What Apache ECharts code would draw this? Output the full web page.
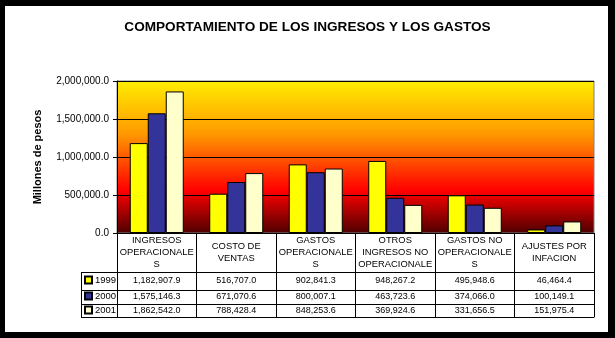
<!DOCTYPE html>
<html><head><meta charset="utf-8">
<script src="https://cdn.jsdelivr.net/npm/echarts@6/dist/echarts.min.js"></script>
<style>
html,body{margin:0;padding:0;background:#000;}
#frame{position:absolute;left:5px;top:6px;width:603px;height:326px;background:#fff;}
#main{position:absolute;left:0;top:0;width:615px;height:338px;}
</style>
</head><body><div id="frame"></div><div id="main"></div>
<script>
const title = 'COMPORTAMIENTO DE LOS INGRESOS Y LOS GASTOS';
const categories = ['INGRESOS\nOPERACIONALE\nS', 'COSTO DE\nVENTAS', 'GASTOS\nOPERACIONALE\nS', 'OTROS\nINGRESOS NO\nOPERACIONALE', 'GASTOS NO\nOPERACIONALE\nS', 'AJUSTES POR\nINFACION'];
const years = ['1999', '2000', '2001'];
const v1999 = [1182907.9, 516707.0, 902841.3, 948267.2, 495948.6, 46464.4];
const v2000 = [1575146.3, 671070.6, 800007.1, 463723.6, 374066.0, 100149.1];
const v2001 = [1862542.0, 788428.4, 848253.6, 369924.6, 331656.5, 151975.4];
const colors = ['#FFFF00', '#333399', '#FFFFCC'];

const FONT = "'Liberation Sans', Arial, sans-serif";
function fmt(v) {
  const parts = v.toFixed(1).split('.');
  return parts[0].replace(/\B(?=(\d{3})+(?!\d))/g, ',') + '.' + parts[1];
}
const seriesData = [v1999, v2000, v2001];

const chart = echarts.init(document.getElementById('main'), null, {renderer: 'canvas'});

function rowAxis(offset, values, margin) {
  return {
    type: 'category', data: categories, position: 'bottom', offset: offset,
    axisLine: {show: true, lineStyle: {color: '#000', width: 1}},
    axisTick: {show: false},
    axisLabel: values ? {
      show: true, interval: 0, margin: margin, verticalAlign: 'middle',
      fontFamily: FONT, fontSize: 9, color: '#000',
      formatter: function (val, idx) { return fmt(values[idx]); }
    } : {show: false},
    splitLine: {show: false}
  };
}

const legendTops = [275, 291, 305];
const option = {
  animation: false,
  title: {
    text: title, left: 'center', top: 15,
    textStyle: {fontFamily: FONT, fontSize: 13.6, fontWeight: 'bold', color: '#000'}
  },
  legend: years.map(function (y, i) {
    return {
      data: [y], orient: 'vertical', left: 84, top: legendTops[i], padding: 0,
      itemWidth: 7, itemHeight: 7, icon: 'rect',
      textStyle: {fontFamily: FONT, fontSize: 9.5, color: '#000', padding: [0, 0, 0, -2]},
      selectedMode: false
    };
  }),
  grid: {
    left: 117, right: 21, top: 81, bottom: 105,
    show: true, borderColor: '#808080', borderWidth: 1,
    backgroundColor: {
      type: 'linear', x: 0, y: 0, x2: 0, y2: 1,
      colorStops: [
        {offset: 0, color: '#FFEE00'},
        {offset: 0.35, color: '#FF9900'},
        {offset: 0.55, color: '#FF4400'},
        {offset: 0.72, color: '#FF0000'},
        {offset: 1, color: '#4D0000'}
      ]
    }
  },
  xAxis: [
    {
      type: 'category', data: categories, position: 'bottom',
      axisLine: {show: true, lineStyle: {color: '#000', width: 1}},
      axisTick: {show: true, length: 84, inside: false, alignWithLabel: false, lineStyle: {color: '#000'}},
      axisLabel: {
        show: true, interval: 0, margin: 19.5, verticalAlign: 'middle',
        fontFamily: FONT, fontSize: 9.4, color: '#000', lineHeight: 12
      },
      splitLine: {show: false}
    },
    rowAxis(39, v1999, 9),
    rowAxis(57, v2000, 7),
    rowAxis(71, v2001, 6.5),
    rowAxis(84, null, 0)
  ],
  yAxis: {
    type: 'value', min: 0, max: 2000000, interval: 500000,
    name: 'Millones de pesos', nameLocation: 'middle', nameGap: 74, nameRotate: 90,
    nameTextStyle: {fontFamily: FONT, fontSize: 11, fontWeight: 'bold', color: '#000'},
    axisLine: {show: true, lineStyle: {color: '#000', width: 1}},
    axisTick: {show: true, length: 4, lineStyle: {color: '#000'}},
    axisLabel: {
      fontFamily: FONT, fontSize: 10, color: '#000', margin: 8,
      formatter: function (v) { return fmt(v); }
    },
    splitLine: {show: true, lineStyle: {color: '#000', width: 1}}
  },
  graphic: [
    {type: 'line', shape: {x1: 81.5, y1: 272, x2: 81.5, y2: 317.5}, style: {stroke: '#000', lineWidth: 1}},
    {type: 'line', shape: {x1: 81, y1: 272.5, x2: 117, y2: 272.5}, style: {stroke: '#000', lineWidth: 1}},
    {type: 'line', shape: {x1: 81, y1: 290.5, x2: 117, y2: 290.5}, style: {stroke: '#000', lineWidth: 1}},
    {type: 'line', shape: {x1: 81, y1: 304.5, x2: 117, y2: 304.5}, style: {stroke: '#000', lineWidth: 1}},
    {type: 'line', shape: {x1: 81, y1: 317.5, x2: 117, y2: 317.5}, style: {stroke: '#000', lineWidth: 1}}
  ],
  series: years.map(function (y, i) {
    return {
      name: y, type: 'bar', data: seriesData[i], xAxisIndex: 0,
      barWidth: 18, barGap: '0%',
      itemStyle: {color: colors[i], borderColor: '#000', borderWidth: 1}
    };
  })
};
chart.setOption(option);
</script>
</body></html>
